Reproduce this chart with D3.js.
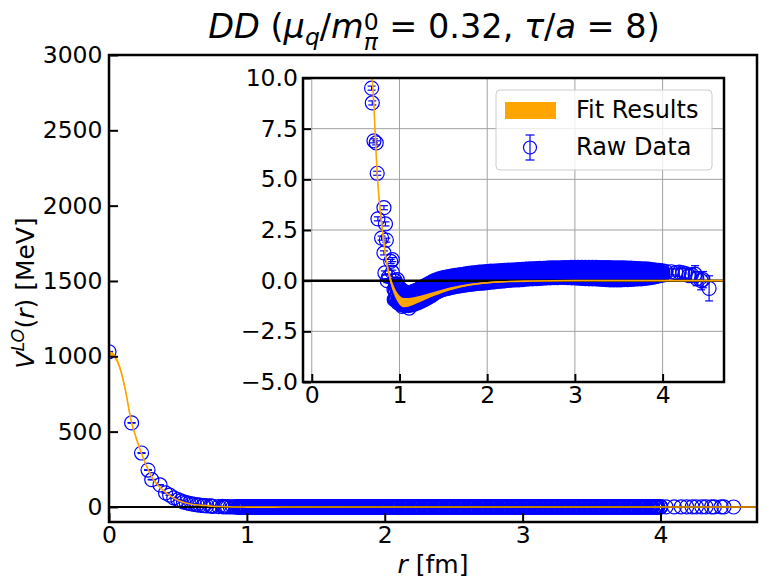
<!DOCTYPE html>
<html><head><meta charset="utf-8">
<script src="https://cdn.jsdelivr.net/npm/d3@7"></script>
<style>
body{margin:0;background:#fff}
svg{display:block}
text{font-family:"DejaVu Sans",sans-serif;white-space:pre;fill:#000}
</style>
</head><body>
<svg id="c" width="764" height="588"></svg>
<script>
// ---------------- data ----------------
const mainXTicks = [0, 1, 2, 3, 4];
const mainYTicks = [0, 500, 1000, 1500, 2000, 2500, 3000];
const insetXTicks = [0, 1, 2, 3, 4];
const insetYTicks = [-5, -2.5, 0, 2.5, 5, 7.5, 10];

// fit result (central value and half-width of band), MeV
const fitR = [0, 0.04, 0.08, 0.12, 0.16, 0.2, 0.24, 0.28, 0.32, 0.36, 0.4, 0.45, 0.5, 0.55, 0.6, 0.65, 0.7, 0.75, 0.8, 0.85, 0.9, 0.95, 1.0, 1.05, 1.1, 1.2, 1.3, 1.4, 1.5, 1.6, 1.8, 2.0, 2.2, 2.5, 3.0, 3.5, 4.0, 4.7];
const fitV = [1020, 1000, 920, 770, 575, 450, 345, 255, 185, 140, 105, 70, 45, 28, 18, 12.5, 9.3, 5.0, 2.7, 1.0, 0.0, -0.6, -0.95, -1.08, -1.07, -0.95, -0.8, -0.65, -0.5, -0.38, -0.2, -0.1, -0.05, -0.02, 0, 0, 0, 0];
const fitE = [15, 15, 15, 15, 12, 10, 8, 6, 5, 4, 3, 2, 1.5, 1, 0.5, 0.3, 0.2, 0.18, 0.16, 0.16, 0.18, 0.2, 0.22, 0.23, 0.22, 0.17, 0.13, 0.1, 0.08, 0.07, 0.05, 0.04, 0.03, 0.02, 0.02, 0.02, 0.02, 0.02];

// individually readable raw data points
const rawR = [0.00, 0.164, 0.236, 0.283, 0.31, 0.37, 0.41, 0.44, 0.47, 0.50, 0.52, 0.54, 0.56, 0.58, 0.60, 0.62, 0.64, 0.66, 0.682, 0.69, 0.709, 0.735, 0.746, 0.754, 0.796, 0.823, 0.823, 0.834, 0.84, 0.85, 0.86, 0.88, 0.90, 0.918, 0.918, 0.937, 0.94, 0.975, 1.03, 1.11,
  4.04, 4.10, 4.15, 4.19, 4.23, 4.26, 4.30, 4.33, 4.37, 4.39, 4.44, 4.46, 4.53];
const rawV = [1030, 558, 358, 245, 181, 146, 93, 78, 60, 48, 40, 33, 28, 24, 20, 17, 14, 12, 9.5, 8.77, 6.9, 6.8, 5.3, 3.05, 2.1, 3.6, 1.37, 0.38, 2.8, 2.0, 0.0, 0.2, 0.95, 1.04, 0.42, -0.44, -0.94, 0.05, -1.27, -1.35,
  0.45, 0.44, 0.40, 0.42, 0.38, 0.35, 0.25, 0.30, 0.32, 0.10, 0.00, 0.05, -0.38];
const rawE = [2, 2, 2, 2, 2, 1.5, 1.5, 1, 1, 1, 1, 0.8, 0.8, 0.6, 0.5, 0.4, 0.3, 0.2, 0.1, 0.1, 0.1, 0.1, 0.1, 0.1, 0.1, 0.1, 0.1, 0.1, 0.1, 0.1, 0.1, 0.1, 0.1, 0.1, 0.1, 0.1, 0.1, 0.1, 0.1, 0.1,
  0.12, 0.15, 0.18, 0.2, 0.22, 0.25, 0.28, 0.3, 0.42, 0.35, 0.45, 0.4, 0.62];

// dense cloud of raw data, set 1: upper, middle and lower rows
const bandR = [0.95, 0.98, 1.01, 1.04, 1.07, 1.10, 1.13, 1.16, 1.19, 1.22, 1.25, 1.28, 1.31, 1.34, 1.37, 1.40, 1.43, 1.46, 1.49, 1.52, 1.55, 1.58, 1.61, 1.64, 1.67, 1.70, 1.73, 1.76, 1.79, 1.82, 1.85, 1.88, 1.91, 1.94, 1.97, 2.00,
  2.04, 2.08, 2.12, 2.16, 2.20, 2.24, 2.28, 2.32, 2.36, 2.40, 2.44, 2.48, 2.52, 2.56, 2.60, 2.64, 2.68, 2.72, 2.76, 2.80, 2.84, 2.88, 2.92, 2.96, 3.00,
  3.04, 3.08, 3.12, 3.16, 3.20, 3.24, 3.28, 3.32, 3.36, 3.40, 3.44, 3.48, 3.52, 3.56, 3.60, 3.64, 3.68, 3.72, 3.76, 3.80, 3.84, 3.88, 3.92, 3.96, 4.00];
const bandUp = [0.00, -0.25, -0.40, -0.50, -0.58, -0.60, -0.58, -0.54, -0.48, -0.42, -0.36, -0.28, -0.21, -0.14, -0.07, 0.00, 0.05, 0.09, 0.13, 0.16, 0.18, 0.21, 0.23, 0.25, 0.27, 0.29, 0.31, 0.33, 0.35, 0.36, 0.38, 0.39, 0.41, 0.42, 0.43, 0.44,
  0.46, 0.47, 0.48, 0.49, 0.50, 0.51, 0.52, 0.53, 0.54, 0.55, 0.56, 0.57, 0.58, 0.59, 0.60, 0.60, 0.61, 0.62, 0.62, 0.63, 0.63, 0.64, 0.64, 0.65, 0.65,
  0.65, 0.65, 0.65, 0.65, 0.65, 0.65, 0.64, 0.64, 0.64, 0.64, 0.63, 0.63, 0.62, 0.62, 0.61, 0.61, 0.60, 0.59, 0.58, 0.57, 0.56, 0.54, 0.52, 0.50, 0.48];
const bandMid = [-0.45, -0.70, -0.85, -0.92, -0.96, -0.97, -0.94, -0.90, -0.85, -0.78, -0.72, -0.64, -0.56, -0.49, -0.42, -0.35, -0.29, -0.24, -0.20, -0.16, -0.12, -0.09, -0.06, -0.03, 0.00, 0.02, 0.04, 0.06, 0.08, 0.10, 0.12, 0.13, 0.15, 0.16, 0.17, 0.18,
  0.20, 0.21, 0.23, 0.24, 0.25, 0.27, 0.28, 0.29, 0.30, 0.31, 0.32, 0.33, 0.34, 0.35, 0.36, 0.37, 0.37, 0.38, 0.39, 0.39, 0.40, 0.40, 0.41, 0.41, 0.40,
  0.40, 0.40, 0.39, 0.39, 0.38, 0.38, 0.37, 0.37, 0.36, 0.36, 0.35, 0.35, 0.34, 0.34, 0.34, 0.34, 0.34, 0.34, 0.35, 0.35, 0.36, 0.36, 0.37, 0.37, 0.38];
const bandLow = [-0.90, -1.08, -1.16, -1.20, -1.22, -1.22, -1.20, -1.16, -1.12, -1.06, -1.00, -0.94, -0.87, -0.80, -0.72, -0.62, -0.55, -0.49, -0.44, -0.40, -0.37, -0.34, -0.31, -0.28, -0.26, -0.24, -0.22, -0.20, -0.18, -0.16, -0.15, -0.13, -0.12, -0.11, -0.10, -0.09,
  -0.07, -0.05, -0.03, -0.02, 0.00, 0.02, 0.03, 0.04, 0.05, 0.06, 0.08, 0.09, 0.10, 0.11, 0.12, 0.13, 0.14, 0.15, 0.16, 0.16, 0.17, 0.17, 0.16, 0.15, 0.14,
  0.13, 0.12, 0.11, 0.10, 0.10, 0.09, 0.08, 0.07, 0.06, 0.05, 0.05, 0.05, 0.05, 0.06, 0.06, 0.07, 0.08, 0.09, 0.10, 0.12, 0.14, 0.17, 0.20, 0.24, 0.28];
// set 2: points lying between the rows above
const bandR2 = [0.965, 0.995, 1.025, 1.055, 1.085, 1.115, 1.145, 1.175, 1.205, 1.235, 1.265, 1.295, 1.325, 1.355, 1.385, 1.415, 1.445, 1.475, 1.505, 1.535, 1.565, 1.595, 1.625, 1.655, 1.685, 1.715, 1.745, 1.775, 1.805, 1.835, 1.865, 1.895, 1.925, 1.955, 1.985,
  2.02, 2.06, 2.10, 2.14, 2.18, 2.22, 2.26, 2.30, 2.34, 2.38, 2.42, 2.46, 2.50, 2.54, 2.58, 2.62, 2.66, 2.70, 2.74, 2.78, 2.82, 2.86, 2.90, 2.94, 2.98,
  3.02, 3.06, 3.10, 3.14, 3.18, 3.22, 3.26, 3.30, 3.34, 3.38, 3.42, 3.46, 3.50, 3.54, 3.58, 3.62, 3.66, 3.70, 3.74, 3.78, 3.82, 3.86, 3.90, 3.94, 3.98];
const bandHi2 = [-0.35, -0.55, -0.67, -0.74, -0.78, -0.77, -0.74, -0.69, -0.63, -0.57, -0.50, -0.42, -0.35, -0.28, -0.21, -0.15, -0.10, -0.05, -0.02, 0.02, 0.05, 0.07, 0.10, 0.12, 0.14, 0.17, 0.19, 0.21, 0.22, 0.24, 0.25, 0.27, 0.28, 0.29, 0.30,
  0.32, 0.33, 0.35, 0.36, 0.37, 0.38, 0.40, 0.41, 0.42, 0.43, 0.44, 0.45, 0.46, 0.47, 0.48, 0.48, 0.49, 0.50, 0.50, 0.51, 0.51, 0.52, 0.52, 0.53, 0.53,
  0.53, 0.53, 0.52, 0.52, 0.52, 0.52, 0.51, 0.51, 0.50, 0.50, 0.50, 0.49, 0.49, 0.48, 0.48, 0.48, 0.47, 0.47, 0.47, 0.46, 0.46, 0.45, 0.45, 0.44, 0.43];
const bandLo2 = [-0.78, -0.95, -1.04, -1.08, -1.10, -1.09, -1.05, -1.01, -0.95, -0.89, -0.82, -0.75, -0.68, -0.61, -0.53, -0.45, -0.39, -0.34, -0.30, -0.26, -0.23, -0.20, -0.17, -0.14, -0.12, -0.10, -0.08, -0.06, -0.04, -0.02, -0.01, 0.01, 0.02, 0.03, 0.04,
  0.06, 0.07, 0.09, 0.11, 0.12, 0.14, 0.15, 0.16, 0.17, 0.18, 0.20, 0.21, 0.22, 0.23, 0.24, 0.25, 0.255, 0.26, 0.27, 0.275, 0.28, 0.285, 0.285, 0.28, 0.27,
  0.265, 0.26, 0.25, 0.245, 0.24, 0.235, 0.225, 0.22, 0.21, 0.205, 0.20, 0.20, 0.195, 0.20, 0.20, 0.205, 0.21, 0.215, 0.225, 0.235, 0.25, 0.265, 0.285, 0.31, 0.33];
// set 3: further points near the upper and lower quarters of the band
const bandR3 = [0.957, 0.987, 1.017, 1.047, 1.077, 1.107, 1.137, 1.167, 1.197, 1.227, 1.257, 1.287, 1.317, 1.347, 1.377, 1.407, 1.437, 1.467, 1.497, 1.527, 1.557, 1.587, 1.617, 1.647, 1.677, 1.707, 1.737, 1.767, 1.797, 1.827, 1.857, 1.887, 1.917, 1.947, 1.977, 2.007,
  2.05, 2.09, 2.13, 2.17, 2.21, 2.25, 2.29, 2.33, 2.37, 2.41, 2.45, 2.49, 2.53, 2.57, 2.61, 2.65, 2.69, 2.73, 2.77, 2.81, 2.85, 2.89, 2.93, 2.97,
  3.01, 3.05, 3.09, 3.13, 3.17, 3.21, 3.25, 3.29, 3.33, 3.37, 3.41, 3.45, 3.49, 3.53, 3.57, 3.61, 3.65, 3.69, 3.73, 3.77, 3.81, 3.85, 3.89, 3.93, 3.97];
const bandA3 = [-0.17, -0.40, -0.53, -0.62, -0.68, -0.68, -0.66, -0.61, -0.55, -0.49, -0.43, -0.35, -0.28, -0.21, -0.14, -0.07, -0.02, 0.02, 0.05, 0.09, 0.12, 0.14, 0.16, 0.18, 0.20, 0.23, 0.25, 0.27, 0.28, 0.30, 0.31, 0.33, 0.34, 0.35, 0.36, 0.38,
  0.41, 0.42, 0.43, 0.44, 0.45, 0.46, 0.47, 0.48, 0.49, 0.50, 0.51, 0.52, 0.53, 0.53, 0.54, 0.55, 0.555, 0.56, 0.565, 0.57, 0.575, 0.58, 0.585, 0.59,
  0.59, 0.59, 0.59, 0.585, 0.585, 0.58, 0.58, 0.575, 0.57, 0.57, 0.565, 0.56, 0.555, 0.55, 0.545, 0.54, 0.535, 0.53, 0.52, 0.51, 0.50, 0.49, 0.48, 0.46, 0.44];
const bandB3 = [-0.85, -1.02, -1.10, -1.14, -1.16, -1.16, -1.13, -1.09, -1.04, -0.98, -0.91, -0.85, -0.78, -0.71, -0.63, -0.54, -0.47, -0.42, -0.37, -0.33, -0.30, -0.27, -0.24, -0.21, -0.19, -0.17, -0.15, -0.13, -0.11, -0.09, -0.08, -0.06, -0.05, -0.04, -0.03, -0.02,
  -0.01, 0.01, 0.03, 0.04, 0.06, 0.08, 0.09, 0.10, 0.11, 0.12, 0.14, 0.15, 0.16, 0.17, 0.18, 0.19, 0.20, 0.21, 0.22, 0.22, 0.23, 0.23, 0.22, 0.21,
  0.20, 0.19, 0.18, 0.17, 0.16, 0.16, 0.15, 0.14, 0.13, 0.12, 0.11, 0.11, 0.11, 0.11, 0.12, 0.12, 0.13, 0.14, 0.15, 0.16, 0.18, 0.20, 0.23, 0.26, 0.30];
const bandErr = 0.04;

const legendLabels = ["Fit Results", "Raw Data"];

// ---------------- build point lists ----------------
const fit = fitR.map((r, i) => ({r, v: fitV[i], e: fitE[i]}));
const pts = rawR.map((r, i) => ({r, v: rawV[i], e: rawE[i], w: 1.2}));
bandR.forEach((r, i) => {
  pts.push({r, v: bandUp[i], e: bandErr, w: 1.5});
  pts.push({r, v: bandMid[i], e: bandErr, w: 1.5});
  pts.push({r, v: bandLow[i], e: bandErr, w: 1.5});
});
bandR2.forEach((r, i) => {
  pts.push({r, v: bandHi2[i], e: bandErr, w: 1.5});
  pts.push({r, v: bandLo2[i], e: bandErr, w: 1.5});
});
bandR3.forEach((r, i) => {
  pts.push({r, v: bandA3[i], e: bandErr, w: 1.5});
  pts.push({r, v: bandB3[i], e: bandErr, w: 1.5});
});

const BLUE = "#0000ff", ORANGE = "#ffa500";
const TICKFS = 23.5;
const svg = d3.select("#c");
const defs = svg.append("defs");

// rich text helper: one <text>, positioned tspans
function rich(parent, segs, fs) {
  const t = parent.append("text").attr("font-size", fs);
  let x = 0;
  const add = (s, y, sz, it) => t.append("tspan").attr("x", x).attr("y", y).attr("font-size", sz)
    .attr("font-style", it ? "italic" : "normal").text(s);
  segs.forEach(s => {
    if (s.stack) {
      const a = add(s.sup, -fs * 0.22, fs * 0.7, false);
      const b = add(s.sub, fs * 0.36, fs * 0.7, true);
      x += Math.max(a.node().getComputedTextLength(), b.node().getComputedTextLength());
    } else {
      const sp = add(s.t, (s.dy || 0) * fs, fs * (s.sc || 1), s.it);
      x += sp.node().getComputedTextLength() + (s.gap || 0) * fs;
    }
  });
  return {t, w: x};
}

function panel(o) {
  const {x, y, clipId} = o;
  const [x0, x1] = x.range(), [y1, y0] = y.range();
  defs.append("clipPath").attr("id", clipId).append("rect")
    .attr("x", x0).attr("y", y0).attr("width", x1 - x0).attr("height", y1 - y0);
  const root = svg.append("g");
  if (o.bg) root.append("rect").attr("x", x0).attr("y", y0).attr("width", x1 - x0).attr("height", y1 - y0).attr("fill", "#fff");
  if (o.grid) {
    const gg = root.append("g").attr("stroke", "#a0a0a0").attr("stroke-width", 1);
    o.xt.forEach(t => gg.append("line").attr("x1", x(t)).attr("x2", x(t)).attr("y1", y0).attr("y2", y1));
    o.yt.forEach(t => gg.append("line").attr("y1", y(t)).attr("y2", y(t)).attr("x1", x0).attr("x2", x1));
  }
  const c = root.append("g").attr("clip-path", `url(#${clipId})`);
  // raw data with error bars
  const dg = c.append("g").attr("stroke", BLUE).attr("fill", "none");
  const sel = dg.selectAll("g.p").data(pts).join("g").attr("class", "p").attr("stroke-width", d => d.w);
  sel.append("line").attr("x1", d => x(d.r)).attr("x2", d => x(d.r)).attr("y1", d => y(d.v - d.e)).attr("y2", d => y(d.v + d.e));
  sel.append("line").attr("x1", d => x(d.r) - 4).attr("x2", d => x(d.r) + 4).attr("y1", d => y(d.v - d.e)).attr("y2", d => y(d.v - d.e));
  sel.append("line").attr("x1", d => x(d.r) - 4).attr("x2", d => x(d.r) + 4).attr("y1", d => y(d.v + d.e)).attr("y2", d => y(d.v + d.e));
  sel.append("circle").attr("cx", d => x(d.r)).attr("cy", d => y(d.v)).attr("r", 7);
  // zero line
  c.append("line").attr("x1", x0).attr("x2", x1).attr("y1", y(0)).attr("y2", y(0)).attr("stroke", "#000").attr("stroke-width", o.zw);
  // fit band + line
  c.append("path").datum(fit).attr("fill", ORANGE)
    .attr("d", d3.area().x(d => x(d.r)).y0(d => y(d.v - d.e)).y1(d => y(d.v + d.e)).curve(d3.curveMonotoneX));
  c.append("path").datum(fit).attr("fill", "none").attr("stroke", ORANGE).attr("stroke-width", 1.6)
    .attr("d", d3.line().x(d => x(d.r)).y(d => y(d.v)).curve(d3.curveMonotoneX));
  // frame
  root.append("rect").attr("x", x0).attr("y", y0).attr("width", x1 - x0).attr("height", y1 - y0)
    .attr("fill", "none").attr("stroke", "#000").attr("stroke-width", 2.5);
  // axes
  const ax = root.append("g").attr("transform", `translate(0,${y1})`)
    .call(d3.axisBottom(x).tickValues(o.xt).tickSizeInner(-o.tl).tickSizeOuter(0).tickPadding(o.xpad).tickFormat(d3.format("d")));
  const ay = root.append("g").attr("transform", `translate(${x0},0)`)
    .call(d3.axisLeft(y).tickValues(o.yt).tickSizeInner(-o.tl).tickSizeOuter(0).tickPadding(o.ypad).tickFormat(o.yf));
  [ax, ay].forEach(a => {
    a.select(".domain").remove();
    a.attr("font-family", null).attr("font-size", null);
    a.selectAll(".tick line").attr("stroke", "#000").attr("stroke-width", 2);
    a.selectAll(".tick text").attr("font-size", TICKFS).attr("fill", "#000");
  });
  return root;
}

// ---------------- main axes ----------------
const mx = d3.scaleLinear().domain([0, 4.7]).range([109, 757]);
const my = d3.scaleLinear().domain([-100, 3000]).range([522, 55]);
panel({x: mx, y: my, clipId: "cm", xt: mainXTicks, yt: mainYTicks, yf: d3.format("d"), tl: 9, xpad: 4.6, ypad: 6.5, zw: 2});

// ---------------- inset axes ----------------
const ix = d3.scaleLinear().domain([-0.1, 4.7]).range([303, 724]);
const iy = d3.scaleLinear().domain([-5, 10]).range([382, 78]);
const ins = panel({x: ix, y: iy, clipId: "ci", bg: true, grid: true, xt: insetXTicks, yt: insetYTicks, yf: d3.format(".1f"), tl: 8, xpad: 4.6, ypad: 5, zw: 2.5});

// legend
const lg = ins.append("g");
lg.append("rect").attr("x", 496).attr("y", 90).attr("width", 216).attr("height", 80).attr("rx", 4)
  .attr("fill", "#fff").attr("fill-opacity", 0.8).attr("stroke", "#cccccc").attr("stroke-width", 1);
lg.append("rect").attr("x", 505).attr("y", 102).attr("width", 51).attr("height", 17).attr("fill", ORANGE);
lg.append("text").attr("x", 576).attr("y", 118.3).attr("font-size", 24).text(legendLabels[0]);
const le = lg.append("g").attr("stroke", BLUE).attr("stroke-width", 1.2).attr("fill", "none");
le.append("line").attr("x1", 530).attr("x2", 530).attr("y1", 135).attr("y2", 160);
le.append("line").attr("x1", 525.5).attr("x2", 534.5).attr("y1", 135).attr("y2", 135);
le.append("line").attr("x1", 525.5).attr("x2", 534.5).attr("y1", 160).attr("y2", 160);
le.append("circle").attr("cx", 530).attr("cy", 147.5).attr("r", 6.5);
lg.append("text").attr("x", 576).attr("y", 155.3).attr("font-size", 24).text(legendLabels[1]);

// ---------------- labels ----------------
const title = rich(svg, [
  {t: "DD", it: 1}, {t: " ("}, {t: "μ", it: 1}, {t: "q", it: 1, sc: 0.7, dy: 0.21}, {t: "/"}, {t: "m", it: 1},
  {stack: 1, sup: "0", sub: "π"}, {t: " = "}, {t: "0.32, "}, {t: "τ", it: 1}, {t: "/"}, {t: "a", it: 1}, {t: " = "}, {t: "8)"}
], 33.5);
title.t.attr("transform", `translate(${434 - title.w / 2},37.5)`);

const xl = rich(svg, [{t: "r", it: 1}, {t: " [fm]"}], 25);
xl.t.attr("transform", `translate(${433 - xl.w / 2},573.3)`);

const ylw = svg.append("g");
const yl = rich(ylw, [{t: "V", it: 1}, {t: "LO", it: 1, sc: 0.7, dy: -0.42}, {t: "("}, {t: "r", it: 1}, {t: ") [MeV]"}], 25);
yl.t.attr("transform", `translate(${-yl.w / 2},0)`);
ylw.attr("transform", "translate(34,293) rotate(-90)");
</script>
</body></html>
